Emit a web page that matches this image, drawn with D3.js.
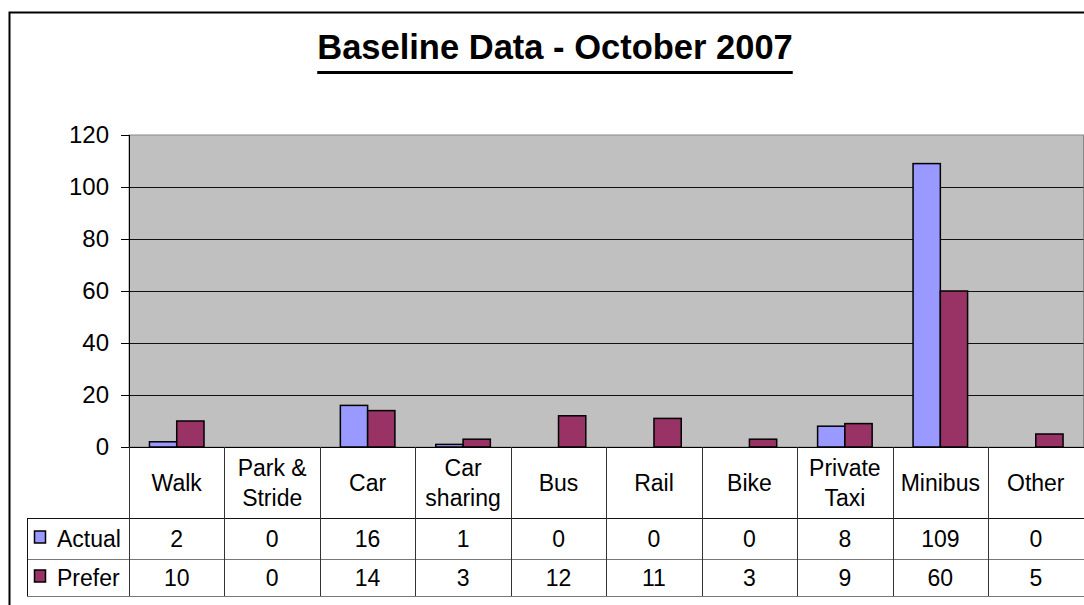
<!DOCTYPE html>
<html>
<head>
<meta charset="utf-8">
<script src="https://cdn.jsdelivr.net/npm/d3@7"></script>
<style>
    body { margin: 0; background: #fff; }
    #chart { width: 1084px; height: 605px; }
    text { font-family: "Liberation Sans", Arial, sans-serif; fill: #000; }
</style>
</head>
<body>
<div id="chart"></div>
<script>
//Datos
const categories = ['Walk', 'Park &\nStride', 'Car', 'Car\nsharing', 'Bus', 'Rail', 'Bike', 'Private\nTaxi', 'Minibus', 'Other'];
const seriesNames = ['Actual', 'Prefer'];
const actual = [2, 0, 16, 1, 0, 0, 0, 8, 109, 0];
const prefer = [10, 0, 14, 3, 12, 11, 3, 9, 60, 5];
const yTicks = [0, 20, 40, 60, 80, 100, 120];
const title = 'Baseline Data - October 2007';

//Colores fijos
const COLOR_ACTUAL = '#9999FF',
COLOR_PREFER = '#993366',
COLOR_PLOT = '#C0C0C0';

let series = [actual, prefer];
let colors = [COLOR_ACTUAL, COLOR_PREFER];

let width = 1084, height = 605;
let plot = {left: 129, right: 1083.5, top: 135, bottom: 447};
let rows = [447, 518, 559, 596];
let legendLeft = 27;

let svg = d3.select('#chart')
    .append('svg')
    .attr('width', width)
    .attr('height', height);

//Marco exterior
svg.append('rect')
    .attr('x', 9.5).attr('y', 12.5)
    .attr('width', 1200).attr('height', 700)
    .attr('fill', '#fff')
    .attr('stroke', '#000')
    .attr('stroke-width', 2);

//Titulo
let t = svg.append('text')
    .attr('x', 555)
    .attr('y', 59)
    .attr('text-anchor', 'middle')
    .style('font-weight', 'bold')
    .style('font-size', '34.5px')
    .text(title);
let tb = t.node().getBBox();
svg.append('rect')
    .attr('x', tb.x).attr('y', 71)
    .attr('width', tb.width).attr('height', 3)
    .attr('fill', '#000');

let x = d3.scaleBand()
    .domain(categories)
    .range([plot.left, plot.right]);

let xs = d3.scaleBand()
    .domain(seriesNames)
    .range([0, x.bandwidth()])
    .paddingOuter(0.75);

let y = d3.scaleLinear()
    .domain([0, 120])
    .range([plot.bottom, plot.top]);

//Area del grafico
svg.append('rect')
    .attr('x', plot.left).attr('y', plot.top)
    .attr('width', plot.right - plot.left)
    .attr('height', plot.bottom - plot.top)
    .attr('fill', COLOR_PLOT)
    .attr('stroke', '#888')
    .attr('stroke-width', 1);

//Eje Y con rejilla
let yAxis = function(g) {
    g.call(d3.axisLeft(y).tickValues(yTicks).tickSize(8).tickPadding(12));
    g.select('.domain').remove();
    g.selectAll('.tick text').style('font-size', '24px').attr('fill', '#000');
    g.selectAll('.tick line').attr('stroke', '#000');
    g.selectAll('.tick').filter(function(d) { return d > 0 && d < 120; })
        .append('line')
        .attr('x1', 0)
        .attr('x2', plot.right - plot.left)
        .attr('stroke', '#111');
}

svg.append('g')
    .attr('transform', 'translate(' + plot.left + ',0)')
    .call(yAxis);

svg.append('line')
    .attr('x1', plot.left + 0.5).attr('x2', plot.left + 0.5)
    .attr('y1', plot.top).attr('y2', plot.bottom)
    .attr('stroke', '#000');

//Barras
series.forEach(function(vals, s) {
    svg.selectAll('.bar-' + s)
        .data(vals)
        .enter()
        .append('rect')
        .attr('class', 'bar-' + s)
        .attr('x', function(d, i) { return x(categories[i]) + xs(seriesNames[s]); })
        .attr('y', function(d) { return y(d); })
        .attr('width', xs.bandwidth())
        .attr('height', function(d) { return y(0) - y(d); })
        .attr('fill', colors[s])
        .attr('stroke', '#000')
        .attr('stroke-width', 1.5);
});

//Tabla de datos
let tbl = svg.append('g');

tbl.append('line')
    .attr('x1', plot.left).attr('x2', width)
    .attr('y1', rows[0] + 0.5).attr('y2', rows[0] + 0.5)
    .attr('stroke', '#000');
tbl.append('line')
    .attr('x1', legendLeft).attr('x2', width)
    .attr('y1', rows[1] + 0.5).attr('y2', rows[1] + 0.5)
    .attr('stroke', '#111');
tbl.append('line')
    .attr('x1', legendLeft).attr('x2', width)
    .attr('y1', rows[2] + 0.5).attr('y2', rows[2] + 0.5)
    .attr('stroke', '#777');
tbl.append('line')
    .attr('x1', legendLeft).attr('x2', width)
    .attr('y1', rows[3] + 0.5).attr('y2', rows[3] + 0.5)
    .attr('stroke', '#777');
tbl.append('line')
    .attr('x1', legendLeft + 0.5).attr('x2', legendLeft + 0.5)
    .attr('y1', rows[1]).attr('y2', rows[3])
    .attr('stroke', '#111');

tbl.selectAll('.vline')
    .data(categories)
    .enter()
    .append('line')
    .attr('class', 'vline')
    .attr('x1', function(d) { return Math.round(x(d)) + 0.5; })
    .attr('x2', function(d) { return Math.round(x(d)) + 0.5; })
    .attr('y1', rows[0]).attr('y2', rows[3])
    .attr('stroke', '#333');

//Etiquetas de categorias
tbl.selectAll('.cat')
    .data(categories)
    .enter()
    .append('text')
    .attr('class', 'cat')
    .attr('text-anchor', 'middle')
    .style('font-size', '23px')
    .each(function(d) {
        let lines = d.split('\n');
        let cx = x(d) + x.bandwidth() / 2;
        let cy = (rows[0] + rows[1]) / 2 + 8;
        let el = d3.select(this);
        lines.forEach(function(l, i) {
            el.append('tspan')
                .attr('x', cx)
                .attr('y', cy + (i - (lines.length - 1) / 2) * 30)
                .text(l);
        });
    });

//Valores y leyenda
series.forEach(function(vals, s) {
    let cy = (rows[s + 1] + rows[s + 2]) / 2 + 8;
    tbl.selectAll('.val-' + s)
        .data(vals)
        .enter()
        .append('text')
        .attr('class', 'val-' + s)
        .attr('x', function(d, i) { return x(categories[i]) + x.bandwidth() / 2; })
        .attr('y', cy)
        .attr('text-anchor', 'middle')
        .style('font-size', '23px')
        .text(function(d) { return d; });

    tbl.append('rect')
        .attr('x', 34.5).attr('y', cy - 15.5)
        .attr('width', 11).attr('height', 12)
        .attr('fill', colors[s])
        .attr('stroke', '#000')
        .attr('stroke-width', 1.5);
    tbl.append('text')
        .attr('x', 57)
        .attr('y', cy)
        .style('font-size', '23px')
        .text(seriesNames[s]);
});
</script>
</body>
</html>
